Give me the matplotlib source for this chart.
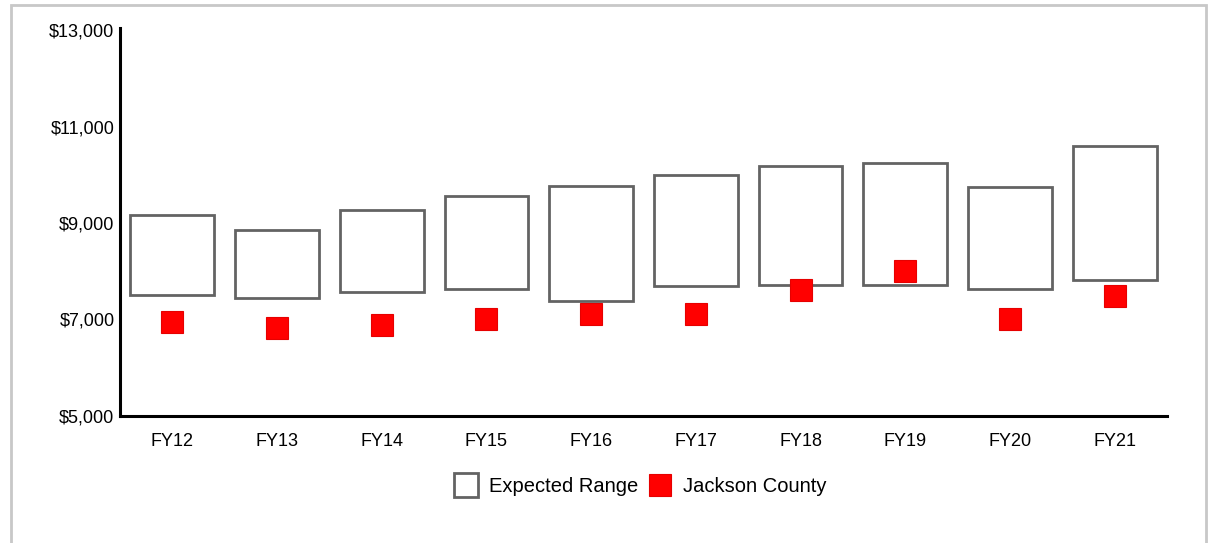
import matplotlib
matplotlib.use("Agg")
import matplotlib.pyplot as plt
from matplotlib.lines import Line2D
from matplotlib.patches import Rectangle
from matplotlib.ticker import FuncFormatter
import numpy as np

plt.rcParams["font.family"] = ["Liberation Sans", "DejaVu Sans"]

years    = ["FY12", "FY13", "FY14", "FY15", "FY16", "FY17", "FY18", "FY19", "FY20", "FY21"]
range_lo = [7515, 7452, 7577, 7640, 7390, 7702, 7708, 7708, 7640, 7827]
range_hi = [9160, 8848, 9265, 9569, 9764, 9994, 10173, 10243, 9756, 10590]
county   = [6942, 6827, 6879, 7004, 7121, 7121, 7608, 8000, 7004, 7494]

BOX_EDGE = "#636363"
RED      = "#ff0000"

W, H = 1208, 543
fig = plt.figure(figsize=(W / 100, H / 100), dpi=100)
ax = fig.add_axes([120 / W, 127 / H, (1167 - 120) / W, (513 - 127) / H])

x = np.arange(len(years))
lo = np.array(range_lo)
hi = np.array(range_hi)
ax.bar(x, hi - lo, bottom=lo, width=0.8, facecolor="white",
       edgecolor=BOX_EDGE, linewidth=2.0, zorder=2)
ax.plot(x, county, linestyle="none", marker="s", markersize=16,
        markerfacecolor=RED, markeredgecolor="#e60000", markeredgewidth=0.8,
        zorder=3)

ax.set_xlim(-0.5, len(years) - 0.5)
ax.set_ylim(5000, 13000)
ax.set_yticks(range(5000, 13001, 2000))
ax.yaxis.set_major_formatter(FuncFormatter(lambda v, _: f"${v:,.0f}"))
ax.set_xticks(x)
ax.set_xticklabels(years)
ax.tick_params(axis="y", length=0, pad=4, labelsize=13)
ax.tick_params(axis="x", length=0, pad=12.5, labelsize=13)

for side in ("top", "right"):
    ax.spines[side].set_visible(False)
for side in ("left", "bottom"):
    ax.spines[side].set_linewidth(2.2)
    ax.spines[side].set_color("black")
ax.spines["left"].set_bounds(5000, 13050)

handles = [
    Line2D([], [], linestyle="none", marker="s", markersize=17,
           markerfacecolor="white", markeredgecolor=BOX_EDGE, markeredgewidth=2.0),
    Line2D([], [], linestyle="none", marker="s", markersize=16,
           markerfacecolor=RED, markeredgecolor="#e60000", markeredgewidth=0.8),
]
fig.legend(handles, ["Expected Range", "Jackson County"], loc="center",
           bbox_to_anchor=(640 / W, (H - 487) / H), ncol=2, frameon=False,
           fontsize=14.5, handlelength=1.25, handletextpad=0.5,
           columnspacing=0.45)

# light frame around the chart area
fig.patches.append(Rectangle((11 / W, -0.05), (1206 - 11) / W, 1.05 - 5 / H,
                             transform=fig.transFigure, fill=False,
                             edgecolor="#c8c8c8", linewidth=2.0))

fig.savefig("out.png", dpi=100)
